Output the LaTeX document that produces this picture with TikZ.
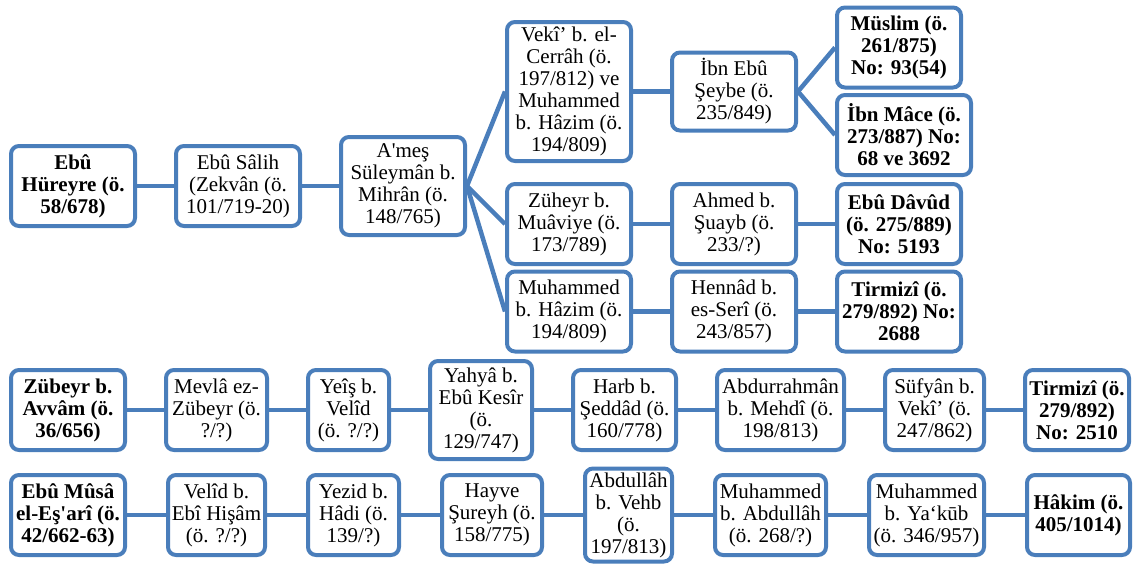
\documentclass[tikz,border=0pt]{standalone}
\usepackage{fontspec}
\setmainfont{Liberation Serif}
\usetikzlibrary{positioning}
\definecolor{smartblue}{RGB}{74,126,187}

\begin{document}
\begin{tikzpicture}[-, x=1pt, y=-1pt, node distance=37pt]
    \tikzset{box/.style={draw=smartblue, fill=white, rounded corners=8pt, line width=4pt, align=center, minimum width=124pt, minimum height=80pt, inner xsep=2pt, inner ysep=3pt, font=\fontsize{21}{22}\selectfont}};
    \tikzset{key/.style={box, font=\fontsize{21}{22}\selectfont\bfseries}};
    \tikzset{link/.style={draw=smartblue, line width=4.5pt}};
    \useasboundingbox (0,0) rectangle (1133,565);
    % first chain
    \node[key] (aHureyre) at (73,186) {Ebû\\Hüreyre (ö.\\58/678)};
    \node[box, right=of aHureyre] (aSalih) {Ebû Sâlih\\(Zekvân (ö.\\101/719-20)};
    \node[box, right=of aSalih, minimum height=98pt] (aAmes) {A\textquotesingle meş\\Süleymân b.\\Mihrân (ö.\\148/765)};
    \node[box, minimum height=139pt] (aVeki) at (569,91.5) {Vekî’ b. el-\\Cerrâh (ö.\\197/812) ve\\Muhammed\\b. Hâzim (ö.\\194/809)};
    \node[box, right=of aVeki, minimum height=78pt] (aSeybe) {İbn Ebû\\Şeybe (ö.\\235/849)};
    \node[key, anchor=west] (aMuslim) at (835,47.5) {Müslim (ö.\\261/875)\\No: 93(54)};
    \node[key, anchor=west, minimum width=134pt] (aMace) at (835,135) {İbn Mâce (ö.\\273/887) No:\\68 ve 3692};
    \node[box] (aZuheyr) at (569,224) {Züheyr b.\\Muâviye (ö.\\173/789)};
    \node[box, right=of aZuheyr] (aAhmed) {Ahmed b.\\Şuayb (ö.\\233/?)};
    \node[key, right=of aAhmed] (aDavud) {Ebû Dâvûd\\(ö. 275/889)\\No: 5193};
    \node[box] (aHazim) at (569,311.5) {Muhammed\\b. Hâzim (ö.\\194/809)};
    \node[box, right=of aHazim] (aHennad) {Hennâd b.\\es-Serî (ö.\\243/857)};
    \node[key, right=of aHennad] (aTirmizi) {Tirmizî (ö.\\279/892) No:\\2688};
    % second chain
    \node[key, minimum width=114pt] (bZubeyr) at (68,410) {Zübeyr b.\\Avvâm (ö.\\36/656)};
    \node[box, right=of bZubeyr, minimum width=101pt] (bMevla) {Mevlâ ez-\\Zübeyr (ö.\\?/?)};
    \node[box, right=of bMevla, minimum width=81pt] (bYeis) {Yeîş b.\\Velîd\\(ö. ?/?)};
    \node[box, right=of bYeis, minimum width=102pt, minimum height=98pt] (bYahya) {Yahyâ b.\\Ebû Kesîr\\(ö.\\129/747)};
    \node[box, right=of bYahya, minimum width=103pt] (bHarb) {Harb b.\\Şeddâd (ö.\\160/778)};
    \node[box, right=of bHarb, minimum width=127pt] (bAbdurrahman) {Abdurrahmân\\b. Mehdî (ö.\\198/813)};
    \node[box, right=of bAbdurrahman, minimum width=99pt] (bSufyan) {Süfyân b.\\Vekî’ (ö.\\247/862)};
    \node[key, right=of bSufyan, minimum width=104pt] (bTirmizi) {Tirmizî (ö.\\279/892)\\No: 2510};
    % third chain
    \node[key, minimum width=114pt] (cMusa) at (68,515) {Ebû Mûsâ\\el-Eş\textquotesingle arî (ö.\\42/662-63)};
    \node[box, right=39pt of cMusa, minimum width=97pt] (cVelid) {Velîd b.\\Ebî Hişâm\\(ö. ?/?)};
    \node[box, right=39pt of cVelid, minimum width=91pt] (cYezid) {Yezid b.\\Hâdi (ö.\\139/?)};
    \node[box, right=39pt of cYezid, minimum width=100pt] (cHayve) {Hayve\\Şureyh (ö.\\158/775)};
    \node[box, right=39pt of cHayve, minimum width=87pt, minimum height=93pt] (cAbdullah) {Abdullâh\\b. Vehb\\(ö.\\197/813)};
    \node[box, right=39pt of cAbdullah, minimum width=111pt] (cMuhammed) {Muhammed\\b. Abdullâh\\(ö. 268/?)};
    \node[box, right=39pt of cMuhammed, minimum width=115pt] (cYakub) {Muhammed\\b. Ya‘kūb\\(ö. 346/957)};
    \node[key, right=39pt of cYakub, minimum width=103pt] (cHakim) {Hâkim (ö.\\405/1014)};
    {
      \path[link]
        (aHureyre) edge (aSalih)
        (aSalih) edge (aAmes)
        (aAmes.east) edge (aVeki.west)
        (aAmes.east) edge (aZuheyr.west)
        (aAmes.east) edge (aHazim.west)
        (aVeki) edge (aSeybe)
        (aSeybe.east) edge (aMuslim.west)
        (aSeybe.east) edge (aMace.west)
        (aZuheyr) edge (aAhmed)
        (aAhmed) edge (aDavud)
        (aHazim) edge (aHennad)
        (aHennad) edge (aTirmizi)
        (bZubeyr) edge (bMevla)
        (bMevla) edge (bYeis)
        (bYeis) edge (bYahya)
        (bYahya) edge (bHarb)
        (bHarb) edge (bAbdurrahman)
        (bAbdurrahman) edge (bSufyan)
        (bSufyan) edge (bTirmizi)
        (cMusa) edge (cVelid)
        (cVelid) edge (cYezid)
        (cYezid) edge (cHayve)
        (cHayve) edge (cAbdullah)
        (cAbdullah) edge (cMuhammed)
        (cMuhammed) edge (cYakub)
        (cYakub) edge (cHakim)
        ;
    }
\end{tikzpicture}
\end{document}
